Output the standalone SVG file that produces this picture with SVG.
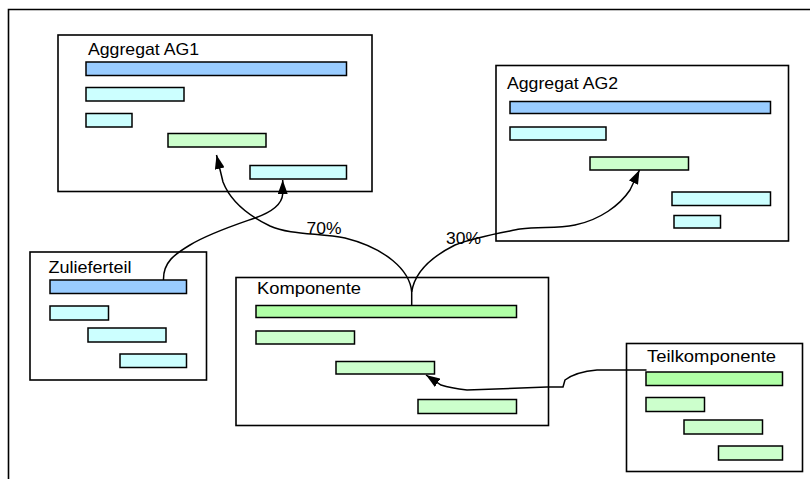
<svg xmlns="http://www.w3.org/2000/svg" width="810" height="479" viewBox="0 0 810 479">
<style>
.box{fill:#fff;stroke:#000;stroke-width:1.6}
.bar{stroke:#000;stroke-width:1.5}
.blue{fill:#99CCFF}
.cyan{fill:#CCFFFF}
.lg{fill:#CCFFCC}
.sg{fill:#B0FFA6}
.t{font-family:"Liberation Sans",Arial,sans-serif;font-size:17px;fill:#000}
.lbl{font-family:"Liberation Sans",Arial,sans-serif;font-size:17px;fill:#000}
.conn{fill:none;stroke:#000;stroke-width:1.5}
</style>
<defs>
<marker id="arr" viewBox="0 0 14 10" refX="14" refY="5" markerWidth="14" markerHeight="10" markerUnits="userSpaceOnUse" orient="auto">
<path d="M0,0 L14,5 L0,10 Z" fill="#000"/>
</marker>
</defs>
<rect width="810" height="479" fill="#fff"/>
<path d="M8.5,479 L8.5,9.5 L810,9.5" fill="none" stroke="#000" stroke-width="1.6"/>

<g id="ag1">
<rect class="box" x="58" y="35" width="314" height="156.5"/>
<text class="t" x="88" y="55" textLength="111" lengthAdjust="spacingAndGlyphs">Aggregat AG1</text>
<rect class="bar blue" x="86" y="62" width="260.5" height="13.5"/>
<rect class="bar cyan" x="86" y="87.5" width="98" height="13.5"/>
<rect class="bar cyan" x="86" y="113.5" width="46" height="13.5"/>
<rect class="bar lg" x="168" y="133.5" width="98" height="13.5"/>
<rect class="bar cyan" x="250" y="165.5" width="96.5" height="13.5"/>
</g>

<g id="ag2">
<rect class="box" x="496" y="65.5" width="292.5" height="175.5"/>
<text class="t" x="507" y="88.5" textLength="111" lengthAdjust="spacingAndGlyphs">Aggregat AG2</text>
<rect class="bar blue" x="510" y="101.5" width="260.5" height="12"/>
<rect class="bar cyan" x="510" y="127" width="96" height="13"/>
<rect class="bar lg" x="590" y="157" width="98.5" height="13"/>
<rect class="bar cyan" x="672" y="192" width="98.5" height="13.5"/>
<rect class="bar cyan" x="674" y="215.5" width="46.5" height="12.5"/>
</g>

<g id="zulieferteil">
<rect class="box" x="30" y="252" width="176.5" height="128"/>
<text class="t" x="48.5" y="272.5" textLength="83" lengthAdjust="spacingAndGlyphs">Zulieferteil</text>
<rect class="bar blue" x="50" y="280" width="136.5" height="13.5"/>
<rect class="bar cyan" x="50" y="306" width="58.5" height="14"/>
<rect class="bar cyan" x="88" y="328" width="78" height="14"/>
<rect class="bar cyan" x="120" y="354" width="66.5" height="13.5"/>
</g>

<g id="komponente">
<rect class="box" x="236" y="277.5" width="312.5" height="148"/>
<text class="t" x="257" y="293.5" textLength="104" lengthAdjust="spacingAndGlyphs">Komponente</text>
<rect class="bar sg" x="256" y="305.5" width="260.5" height="12"/>
<rect class="bar lg" x="256" y="331" width="98.5" height="13"/>
<rect class="bar lg" x="336" y="361.5" width="98.5" height="12.5"/>
<rect class="bar lg" x="418" y="399.5" width="98.5" height="14"/>
</g>

<g id="teilkomponente">
<rect class="box" x="626.5" y="343.5" width="176" height="128"/>
<text class="t" x="647" y="362" textLength="129" lengthAdjust="spacingAndGlyphs">Teilkomponente</text>
<rect class="bar sg" x="646" y="372" width="136.5" height="13.5"/>
<rect class="bar lg" x="646" y="397.5" width="58.5" height="14"/>
<rect class="bar lg" x="684" y="420" width="78.5" height="14"/>
<rect class="bar lg" x="718.5" y="446" width="64" height="14"/>
</g>

<g id="connectors">
<path class="conn" marker-end="url(#arr)" d="M163.5,280 C163,262 175,254 190,245 C210,233 235,225 255,218 C272,212 282,205 282.7,194 L282.7,180"/>
<path class="conn" marker-end="url(#arr)" d="M411.7,305 L411.7,292 C410,270 385,248 345,238 C320,233 290,235 270,226 C245,214 230,200 223,182 L216.5,155"/>
<path class="conn" marker-end="url(#arr)" d="M411.7,292 C415,270 435,255 455,245 C475,237 500,233 520,229 C540,226 555,229 575,225 C600,220 620,205 630,190 L639.5,170"/>
<path class="conn" marker-end="url(#arr)" d="M646.5,370 L597,370 C585,371 573,374 565,380 L563,387 L547,387 L467,390 C458,389 450,388 441,385 L426,375"/>
<text class="lbl" x="306.5" y="234" textLength="35" lengthAdjust="spacingAndGlyphs">70%</text>
<text class="lbl" x="446" y="243.5" textLength="35" lengthAdjust="spacingAndGlyphs">30%</text>
</g>
</svg>
